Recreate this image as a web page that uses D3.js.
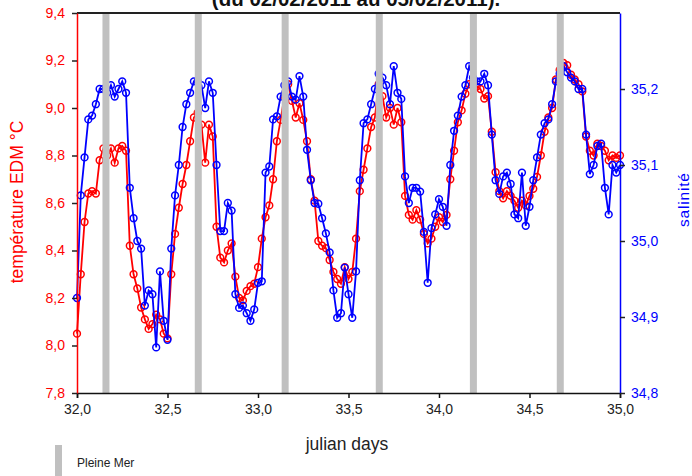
<!DOCTYPE html>
<html>
<head>
<meta charset="utf-8">
<script src="https://cdn.jsdelivr.net/npm/d3@7"></script>
<style>
  html, body { margin: 0; padding: 0; background: #fff; }
  svg { display: block; font-family: "Liberation Sans", Arial, sans-serif; }
</style>
</head>
<body>
<svg id="chart" width="692" height="476"></svg>
<script>
// Mooring record: water temperature (EDM) and salinity, 30-minute samples
const startDay = 32.0;
const stepDay = 1 / 48;

const temperature = [
  8.05, 8.30, 8.52, 8.64, 8.65, 8.64, 8.78, 8.83, 8.80, 8.83,
  8.77, 8.83, 8.84, 8.82, 8.42, 8.30, 8.24, 8.16, 8.11, 8.07,
  8.09, 8.13, 8.11, 8.05, 8.03, 8.30, 8.47, 8.58, 8.68, 8.76,
  8.86, 8.96, 8.98, 8.93, 8.77, 8.93, 8.88, 8.50, 8.37, 8.35,
  8.40, 8.43, 8.29, 8.20, 8.19, 8.23, 8.25, 8.26, 8.33, 8.45,
  8.54, 8.59, 8.70, 8.86, 8.95, 9.05, 9.10, 9.03, 8.96, 9.02,
  8.95, 8.86, 8.70, 8.61, 8.44, 8.42, 8.41, 8.36, 8.31, 8.28,
  8.26, 8.33, 8.28, 8.31, 8.45, 8.65, 8.74, 8.83, 8.92, 8.96,
  9.10, 9.05, 8.96, 9.00, 8.93, 9.00, 8.94, 8.63, 8.55, 8.53,
  8.57, 8.53, 8.47, 8.43, 8.45, 8.50, 8.54, 8.52, 8.55, 8.70,
  8.82, 8.94, 8.99, 9.06, 9.10, 9.10, 9.09, 9.08, 9.04, 9.05,
  8.90, 8.73, 8.65, 8.62, 8.65, 8.63, 8.61, 8.58, 8.61, 8.59,
  8.63, 8.66, 8.71, 8.80, 8.90, 8.96, 9.00, 9.12, 9.16, 9.19,
  9.18, 9.14, 9.12, 9.10, 9.07, 8.88, 8.82, 8.80, 8.85, 8.84,
  8.82, 8.78, 8.80, 8.79, 8.80
];

const salinity = [
  34.925, 35.060, 35.110, 35.160, 35.165, 35.180, 35.200, 35.200, 35.195, 35.205,
  35.190, 35.200, 35.210, 35.195, 35.070, 35.030, 35.000, 34.990, 34.915, 34.935,
  34.930, 34.860, 34.960, 34.895, 34.870, 34.990, 35.060, 35.100, 35.150, 35.180,
  35.195, 35.210, 35.210, 35.205, 35.175, 35.210, 35.195, 35.100, 35.013, 35.013,
  35.050, 35.040, 34.930, 34.912, 34.915, 34.905, 34.895, 34.910, 34.945, 34.947,
  35.090, 35.098, 35.160, 35.164, 35.190, 35.205, 35.210, 35.190, 35.186, 35.217,
  35.190, 35.120, 35.080, 35.050, 35.049, 35.030, 35.010, 34.985, 34.935, 34.899,
  34.905, 34.965, 34.930, 34.899, 34.960, 35.080, 35.155, 35.160, 35.180, 35.200,
  35.220, 35.215, 35.205, 35.180, 35.230, 35.195, 35.187, 35.085, 35.050, 35.070,
  35.070, 35.065, 35.012, 34.945, 35.017, 35.035, 35.055, 35.045, 35.020, 35.100,
  35.145, 35.165, 35.190, 35.205, 35.230, 35.215, 35.210, 35.210, 35.220, 35.205,
  35.140, 35.080, 35.062, 35.085, 35.090, 35.075, 35.035, 35.030, 35.090, 35.020,
  35.045, 35.080, 35.110, 35.140, 35.155, 35.160, 35.180, 35.210, 35.220, 35.230,
  35.222, 35.215, 35.210, 35.200, 35.200, 35.140, 35.088, 35.100, 35.125, 35.128,
  35.070, 35.035, 35.100, 35.090, 35.100
];

// High-water times (julian days)
const highTides = [32.16, 32.67, 33.15, 33.67, 34.19, 34.67];

const xTicks = [32.0, 32.5, 33.0, 33.5, 34.0, 34.5, 35.0];
const tempTicks = [7.8, 8.0, 8.2, 8.4, 8.6, 8.8, 9.0, 9.2, 9.4];
const salTicks = [34.8, 34.9, 35.0, 35.1, 35.2];

const titleText = "(du 02/02/2011 au 05/02/2011).";
const xTitle = "julian days";
const yLeftTitle = "température EDM °C";
const yRightTitle = "salinité";
const legendText = "Pleine Mer";

const RED = "#ff0000", BLUE = "#0000ff", BAR = "#c0c0c0";

const plotLeft = 77, plotRight = 620, plotTop = 13, plotBottom = 393;
const svg = d3.select("#chart");

const fr = d3.formatLocale({ decimal: ",", thousands: " ", grouping: [3], currency: ["", "€"] });
const f1 = fr.format(".1f");

const x = d3.scaleLinear().domain([32, 35]).range([plotLeft, plotRight]);
const yT = d3.scaleLinear().domain([7.8, 9.4]).range([plotBottom, plotTop]);
const yS = d3.scaleLinear().domain([34.8, 35.3]).range([plotBottom, plotTop]);

const tempData = temperature.map((v, i) => ({ d: startDay + i * stepDay, v }));
const salData = salinity.map((v, i) => ({ d: startDay + i * stepDay, v }));

// series: line plus hollow circle markers
function drawSeries(data, yScale, color) {
  const g = svg.append("g");
  g.append("path")
    .datum(data)
    .attr("fill", "none")
    .attr("stroke", color)
    .attr("stroke-width", 1.8)
    .attr("d", d3.line().x(d => x(d.d)).y(d => yScale(d.v)));
  g.selectAll("circle").data(data).join("circle")
    .attr("cx", d => x(d.d))
    .attr("cy", d => yScale(d.v))
    .attr("r", 3.4)
    .attr("fill", "none")
    .attr("stroke", color)
    .attr("stroke-width", 1.5);
}
drawSeries(tempData, yT, RED);
drawSeries(salData, yS, BLUE);

// high-water bars drawn above the series
svg.append("g").selectAll("rect").data(highTides).join("rect")
  .attr("x", d => x(d) - 3.5)
  .attr("y", plotTop)
  .attr("width", 7)
  .attr("height", plotBottom - plotTop + 1)
  .attr("fill", BAR);

// frame: top border
svg.append("line")
  .attr("x1", plotLeft).attr("x2", plotRight).attr("y1", plotTop).attr("y2", plotTop)
  .attr("stroke", "#222").attr("stroke-width", 2);

const tickFont = 14;

// bottom axis
const gx = svg.append("g").attr("transform", `translate(0,${plotBottom})`)
  .call(d3.axisBottom(x).tickValues(xTicks).tickFormat(f1).tickSize(5).tickPadding(6));
gx.select(".domain").attr("stroke", "#111").attr("stroke-width", 1.5);
gx.selectAll(".tick line").attr("stroke", "#111").attr("stroke-width", 1.5);
gx.selectAll(".tick text").attr("fill", "#222").attr("font-size", tickFont)
  .attr("font-family", "Liberation Sans, Arial, sans-serif");

// left axis (temperature)
const gl = svg.append("g").attr("transform", `translate(${plotLeft},0)`)
  .call(d3.axisLeft(yT).tickValues(tempTicks).tickFormat(f1).tickSize(5).tickPadding(7).tickSizeOuter(0));
gl.select(".domain").attr("stroke", RED).attr("stroke-width", 1.5);
gl.selectAll(".tick line").attr("stroke", "#222").attr("stroke-width", 1.5);
gl.selectAll(".tick text").attr("fill", RED).attr("font-size", tickFont)
  .attr("font-family", "Liberation Sans, Arial, sans-serif");

// right axis (salinity)
const gr = svg.append("g").attr("transform", `translate(${plotRight},0)`)
  .call(d3.axisRight(yS).tickValues(salTicks).tickFormat(f1).tickSize(5).tickPadding(6).tickSizeOuter(0));
gr.select(".domain").attr("stroke", BLUE).attr("stroke-width", 1.5);
gr.selectAll(".tick line").attr("stroke", "#222").attr("stroke-width", 1.5);
gr.selectAll(".tick text").attr("fill", BLUE).attr("font-size", tickFont)
  .attr("font-family", "Liberation Sans, Arial, sans-serif");

// titles
svg.append("text")
  .attr("x", 356).attr("y", 6)
  .attr("text-anchor", "middle")
  .attr("font-size", 20.5).attr("font-weight", "bold").attr("fill", "#111")
  .text(titleText);

svg.append("text")
  .attr("x", 347).attr("y", 450)
  .attr("text-anchor", "middle")
  .attr("font-size", 17.5).attr("fill", "#222")
  .text(xTitle);

svg.append("text")
  .attr("transform", "translate(23,202) rotate(-90)")
  .attr("text-anchor", "middle")
  .attr("font-size", 17.5).attr("fill", RED)
  .text(yLeftTitle);

svg.append("text")
  .attr("transform", "translate(689,200) rotate(-90)")
  .attr("text-anchor", "middle")
  .attr("font-size", 15.5).attr("fill", BLUE)
  .attr("textLength", 54).attr("lengthAdjust", "spacing")
  .text(yRightTitle);

// legend
svg.append("rect").attr("x", 55).attr("y", 445).attr("width", 7).attr("height", 31).attr("fill", BAR);
svg.append("text").attr("x", 77).attr("y", 467).attr("font-size", 12).attr("fill", "#222").text(legendText);
</script>
</body>
</html>
